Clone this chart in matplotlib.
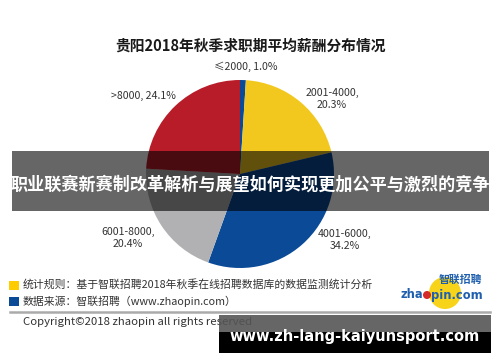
import matplotlib
matplotlib.use("Agg")
import matplotlib.pyplot as plt
from matplotlib.patches import Rectangle, Circle

plt.rcParams['font.family'] = ['Noto Sans CJK SC', 'DejaVu Sans']

title = "贵阳2018年秋季求职期平均薪酬分布情况"
categories = ["≤2000", "2001-4000", "4001-6000", "6001-8000", ">8000"]
shares = [1.0, 20.3, 34.2, 20.4, 24.1]
colors = ["#0B4A97", "#F2C81E", "#0B4A97", "#B1B1B3", "#B71C28"]
banner = "职业联赛新赛制改革解析与展望如何实现更加公平与激烈的竞争"
note1 = "统计规则：基于智联招聘2018年秋季在线招聘数据库的数据监测统计分析"
note2 = "数据来源：智联招聘（www.zhaopin.com）"
copyright_text = "Copyright©2018 zhaopin all rights reserved"
watermark = "www.zh-lang-kaiyunsport.com"

W, H = 500, 362
fig = plt.figure(figsize=(5, 3.62), dpi=100)
ax = fig.add_axes([0, 0, 1, 1])

def Y(y):
    return H - y

ax.pie(shares, colors=colors, startangle=90, counterclock=False,
       center=(240, Y(174)), radius=94,
       wedgeprops=dict(linewidth=0))
ax.set_xlim(0, W)
ax.set_ylim(0, H)
ax.set_aspect('auto')
ax.axis('off')

# title
ax.text(250, Y(46), title, ha='center', va='center', fontsize=10.6,
        fontweight='bold', color='#1a1a1a')

# pie labels
lab_kw = dict(fontsize=7.6, color='#333333', ha='center', va='center', linespacing=1.15)
ax.text(246, Y(67), f"{categories[0]}, {shares[0]:.1f}%", **lab_kw)
ax.text(143, Y(96), f"{categories[4]}, {shares[4]:.1f}%", **lab_kw)
ax.text(332, Y(99), f"{categories[1]},\n{shares[1]:.1f}%", **lab_kw)
ax.text(345, Y(240), f"{categories[2]},\n{shares[2]:.1f}%", **lab_kw)
ax.text(128, Y(238), f"{categories[3]},\n{shares[3]:.1f}%", **lab_kw)

# overlay banner
ax.add_patch(Rectangle((12, Y(211)), 477, 60, facecolor='black', alpha=0.6,
                       edgecolor='none', zorder=5))
ax.text(250, Y(185), banner, ha='center', va='center', fontsize=12.3,
        fontweight='bold', color='white', zorder=6)

# notes
ax.add_patch(Rectangle((9, Y(290)), 10, 9, facecolor='#FFCC00', edgecolor='none'))
ax.add_patch(Rectangle((9, Y(306)), 10, 9, facecolor='#0B4A97', edgecolor='none'))
ax.text(23, Y(284), note1, ha='left', va='center', fontsize=7.8, color='#333333')
ax.text(23, Y(301), note2, ha='left', va='center', fontsize=7.8, color='#333333')

# logo
ax.add_patch(Circle((445, Y(293)), 16, facecolor='#F7D31A', edgecolor='none'))
ax.text(460, Y(280), "智联招聘", ha='center', va='center', fontsize=7.8,
        fontweight='bold', style='italic', color='#1F5FAE')
ax.text(423, Y(295), "zha", ha='right', va='center', fontsize=8.3,
        fontweight='bold', color='#1F5FAE', family='DejaVu Sans')
ax.add_patch(Circle((427, Y(295)), 4, facecolor='#D42A2A', edgecolor='none'))
ax.text(431, Y(295), "pin.com", ha='left', va='center', fontsize=8.3,
        fontweight='bold', color='#1F5FAE', family='DejaVu Sans')

# rule line
ax.plot([10, 490], [Y(312), Y(312)], color='#AAAAAA', linewidth=1.8)

ax.text(23, Y(322), copyright_text, ha='left', va='center', fontsize=8.2,
        color='#333333')

# watermark
ax.add_patch(Rectangle((219, Y(332)), 272, 17, facecolor='#555555', alpha=0.9,
                       edgecolor='none', zorder=5))
ax.add_patch(Rectangle((219, Y(353)), 272, 21, facecolor='black',
                       edgecolor='none', zorder=5))
ax.text(355, Y(337), watermark, ha='center', va='center', fontsize=10.5,
        fontweight='bold', color='white', family='DejaVu Sans', zorder=6)

fig.savefig("out.png", dpi=100, facecolor='white')
